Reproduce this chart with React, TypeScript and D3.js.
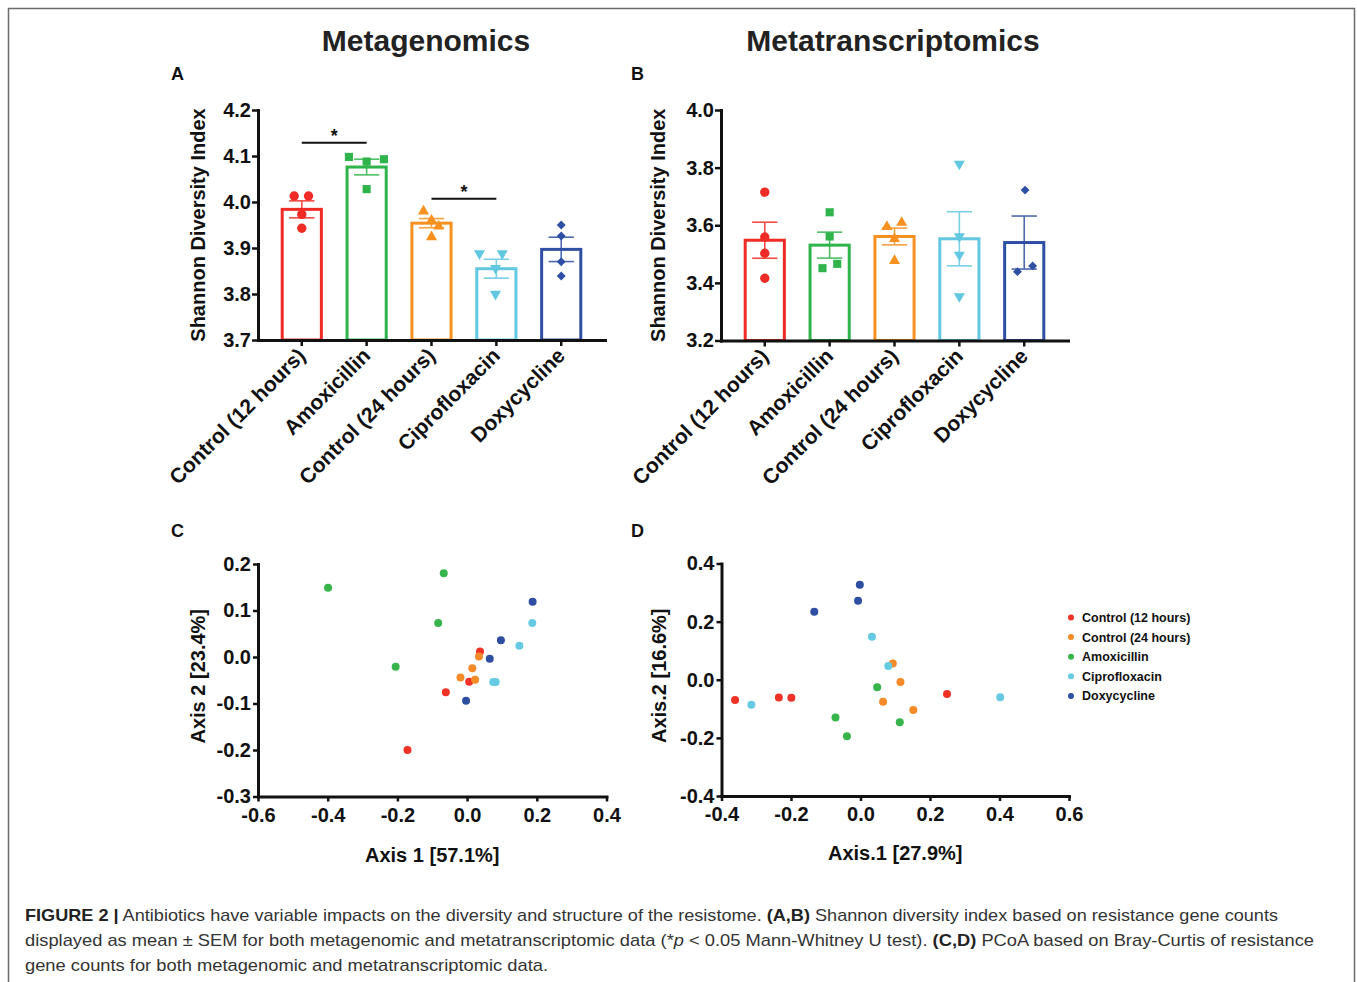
import React, { useEffect, useRef } from "react";
import * as d3 from "d3";

// ---- data ----
const barGroups = ["Control (12 hours)", "Amoxicillin", "Control (24 hours)", "Ciprofloxacin", "Doxycycline"];
const barColors = ["#ee2c25", "#2fb44b", "#f6911f", "#62c8e1", "#2e4fa3"];
const barShapes = ["circle", "square", "triangle", "triangleDown", "diamond"];

// A: metagenomics shannon
const metaGMean = [3.984, 4.076, 3.954, 3.855, 3.897];
const metaGSem = [0.0185, 0.017, 0.010, 0.0205, 0.0265];
const metaGPoints = [
  [4.013, 4.013, 3.973, 3.943],
  [4.098, 4.088, 4.093, 4.028],
  [3.980, 3.960, 3.947, 3.924],
  [3.888, 3.888, 3.856, 3.800],
  [3.950, 3.926, 3.870, 3.839],
];
const metaGJitter = [
  [-0.18, 0.16, 0, 0],
  [-0.42, 0, 0.41, 0],
  [-0.19, 0, 0.17, 0],
  [-0.4, 0.14, -0.02, -0.02],
  [0, 0, 0, 0],
];
const metaGSig = [
  [0, 1, 4.129],
  [2, 3, 4.007],
];
const metaGTicks = [3.7, 3.8, 3.9, 4.0, 4.1, 4.2];

// B: metatranscriptomics shannon
const metaTMean = [3.548, 3.531, 3.561, 3.553, 3.540];
const metaTSem = [0.0625, 0.045, 0.029, 0.094, 0.092];
const metaTPoints = [
  [3.715, 3.559, 3.503, 3.416],
  [3.645, 3.561, 3.451, 3.466],
  [3.595, 3.609, 3.553, 3.477],
  [3.813, 3.561, 3.497, 3.353],
  [3.722, 3.439, 3.459],
];
const metaTJitter = [
  [0, 0, 0, 0],
  [0, 0, -0.17, 0.18],
  [-0.18, 0.17, 0, 0],
  [0, 0, 0, 0],
  [0.02, -0.16, 0.2],
];
const metaTTicks = [3.2, 3.4, 3.6, 3.8, 4.0];

// C/D: PCoA
const pcoaGroups = ["Control (12 hours)", "Control (24 hours)", "Amoxicillin", "Ciprofloxacin", "Doxycycline"];
const pcoaColors = ["#ee3326", "#f58a28", "#37b44a", "#66cbe2", "#2d4ea1"];

const pcoaGPoints = [
  [[0.037, 0.012], [0.006, -0.053], [-0.061, -0.076], [-0.171, -0.2]],
  [[0.034, 0.001], [0.015, -0.024], [-0.019, -0.044], [0.023, -0.049]],
  [[-0.399, 0.149], [-0.067, 0.18], [-0.083, 0.073], [-0.205, -0.021]],
  [[0.187, 0.073], [0.15, 0.024], [0.075, -0.054], [0.082, -0.054]],
  [[0.188, 0.119], [0.097, 0.036], [0.065, -0.004], [-0.003, -0.094]],
];
const pcoaTPoints = [
  [[-0.361, -0.07], [-0.235, -0.061], [-0.199, -0.062], [0.249, -0.049]],
  [[0.093, 0.056], [0.115, -0.008], [0.065, -0.076], [0.152, -0.104]],
  [[0.048, -0.026], [-0.072, -0.13], [-0.039, -0.194], [0.113, -0.146]],
  [[-0.314, -0.086], [0.033, 0.148], [0.08, 0.047], [0.402, -0.06]],
  [[-0.002, 0.327], [-0.007, 0.272], [-0.133, 0.234]],
];
const pcoaGXTicks = [-0.6, -0.4, -0.2, 0.0, 0.2, 0.4];
const pcoaGYTicks = [-0.3, -0.2, -0.1, 0.0, 0.1, 0.2];
const pcoaTXTicks = [-0.4, -0.2, 0.0, 0.2, 0.4, 0.6];
const pcoaTYTicks = [-0.4, -0.2, 0.0, 0.2, 0.4];

const W = 1357;
const H = 982;
const FONT = "'Liberation Sans', Arial, Helvetica, sans-serif";
const fmt = (d: number) => (Math.abs(d) < 1e-9 ? 0 : d).toFixed(1);

function styleAxis(g: any) {
  g.select(".domain").attr("stroke", "#111").attr("stroke-width", 3).attr("stroke-linecap", "square");
  g.selectAll(".tick line").attr("stroke", "#111").attr("stroke-width", 2.5);
  g.selectAll(".tick text")
    .attr("fill", "#111")
    .style("font-family", FONT)
    .style("font-size", "20px")
    .style("font-weight", "bold");
}

function symbolPath(shape: string, size: number) {
  if (shape === "circle") return d3.symbol(d3.symbolCircle, size * 1.05)();
  if (shape === "square") return d3.symbol(d3.symbolSquare, size)();
  if (shape === "triangle" || shape === "triangleDown") return d3.symbol(d3.symbolTriangle, size * 0.8)();
  return d3.symbol(d3.symbolSquare, size * 0.6)();
}
function symbolRotate(shape: string) {
  if (shape === "triangleDown") return 180;
  if (shape === "diamond") return 45;
  return 0;
}

function drawBarPanel(svg: any, o: any) {
  const x = d3.scaleBand<string>().domain(barGroups).range([o.x0, o.x1]).paddingInner(0.35).paddingOuter(0.35);
  const y = d3.scaleLinear().domain([o.ticks[0], o.ticks[o.ticks.length - 1]]).range([o.y1, o.y0]);
  const g = svg.append("g");
  const bw = x.bandwidth();

  // bars
  barGroups.forEach((name, i) => {
    const bx = x(name)!;
    const top = y(o.means[i]);
    g.append("rect")
      .attr("x", bx + 1.5)
      .attr("y", top)
      .attr("width", bw - 3)
      .attr("height", o.y1 - top)
      .attr("fill", "#fff")
      .attr("stroke", barColors[i])
      .attr("stroke-width", 3);
  });

  // error bars
  barGroups.forEach((name, i) => {
    const cx = x(name)! + bw / 2;
    const hi = y(o.means[i] + o.sems[i]);
    const lo = y(o.means[i] - o.sems[i]);
    const eg = g.append("g").attr("stroke", barColors[i]).attr("stroke-width", 1.6).attr("opacity", 0.85);
    eg.append("line").attr("x1", cx).attr("x2", cx).attr("y1", hi).attr("y2", lo);
    eg.append("line").attr("x1", cx - bw * 0.3).attr("x2", cx + bw * 0.3).attr("y1", hi).attr("y2", hi);
    eg.append("line").attr("x1", cx - bw * 0.3).attr("x2", cx + bw * 0.3).attr("y1", lo).attr("y2", lo);
  });

  // points
  barGroups.forEach((name, i) => {
    const cx = x(name)! + bw / 2;
    const shape = barShapes[i];
    o.points[i].forEach((v: number, j: number) => {
      g.append("path")
        .attr("d", symbolPath(shape, 66))
        .attr("transform", `translate(${cx + o.jitter[i][j] * bw},${y(v)}) rotate(${symbolRotate(shape)})`)
        .attr("fill", barColors[i]);
    });
  });

  // axes
  const ya = g
    .append("g")
    .attr("transform", `translate(${o.x0},0)`)
    .call(d3.axisLeft(y).tickValues(o.ticks).tickFormat(fmt as any).tickSize(6).tickPadding(1).tickSizeOuter(0));
  styleAxis(ya);
  const xa = g
    .append("g")
    .attr("transform", `translate(0,${o.y1})`)
    .call(d3.axisBottom(x).tickSize(6).tickSizeOuter(0).tickFormat(() => ""));
  styleAxis(xa);

  // rotated category labels
  barGroups.forEach((name) => {
    const cx = x(name)! + bw / 2;
    g.append("text")
      .attr("transform", `translate(${cx + 5},${o.y1 + 17}) rotate(-45)`)
      .attr("text-anchor", "end")
      .attr("fill", "#111")
      .style("font-family", FONT)
      .style("font-size", "21px")
      .style("font-weight", "bold")
      .text(name);
  });

  // significance
  (o.sig || []).forEach((s: number[]) => {
    const xa0 = x(barGroups[s[0]])! + bw / 2;
    const xa1 = x(barGroups[s[1]])! + bw / 2;
    const yy = y(s[2]);
    g.append("line").attr("x1", xa0).attr("x2", xa1).attr("y1", yy).attr("y2", yy).attr("stroke", "#111").attr("stroke-width", 2);
    g.append("text")
      .attr("x", (xa0 + xa1) / 2)
      .attr("y", yy - 1)
      .attr("text-anchor", "middle")
      .attr("fill", "#111")
      .style("font-family", FONT)
      .style("font-size", "18px")
      .style("font-weight", "bold")
      .text("*");
  });

  // y title
  g.append("text")
    .attr("transform", `translate(${o.titleX},${(o.y0 + o.y1) / 2}) rotate(-90)`)
    .attr("text-anchor", "middle")
    .attr("fill", "#111")
    .style("font-family", FONT)
    .style("font-size", "20px")
    .style("font-weight", "bold")
    .text("Shannon Diversity Index");
}

function drawScatterPanel(svg: any, o: any) {
  const x = d3.scaleLinear().domain([o.xTicks[0], o.xTicks[o.xTicks.length - 1]]).range([o.x0, o.x1]);
  const y = d3.scaleLinear().domain([o.yTicks[0], o.yTicks[o.yTicks.length - 1]]).range([o.y1, o.y0]);
  const g = svg.append("g");

  const ya = g
    .append("g")
    .attr("transform", `translate(${o.x0},0)`)
    .call(d3.axisLeft(y).tickValues(o.yTicks).tickFormat(fmt as any).tickSize(5).tickPadding(2).tickSizeOuter(0));
  styleAxis(ya);
  const xa = g
    .append("g")
    .attr("transform", `translate(0,${o.y1})`)
    .call(d3.axisBottom(x).tickValues(o.xTicks).tickFormat(fmt as any).tickSize(5).tickPadding(6).tickSizeOuter(0));
  styleAxis(xa);

  o.points.forEach((pts: number[][], i: number) => {
    pts.forEach((p) => {
      g.append("circle").attr("cx", x(p[0])).attr("cy", y(p[1])).attr("r", 4).attr("fill", pcoaColors[i]);
    });
  });

  g.append("text")
    .attr("x", (o.x0 + o.x1) / 2)
    .attr("y", o.xTitleY)
    .attr("text-anchor", "middle")
    .attr("fill", "#111")
    .style("font-family", FONT)
    .style("font-size", "20px")
    .style("font-weight", "bold")
    .text(o.xTitle);
  g.append("text")
    .attr("transform", `translate(${o.yTitleX},${(o.y0 + o.y1) / 2 - 4}) rotate(-90)`)
    .attr("text-anchor", "middle")
    .attr("fill", "#111")
    .style("font-family", FONT)
    .style("font-size", "20px")
    .style("font-weight", "bold")
    .text(o.yTitle);
}

export default function App() {
  const ref = useRef<SVGSVGElement>(null);

  useEffect(() => {
    const svg = d3.select(ref.current);
    svg.selectAll("*").remove();

    svg.append("rect").attr("width", W).attr("height", H).attr("fill", "#fff");
    svg
      .append("path")
      .attr("d", `M8.5,${H} V8.5 H1354.5 V${H}`)
      .attr("fill", "none")
      .attr("stroke", "#6a6a6a")
      .attr("stroke-width", 1.5);

    const title = (t: string, cx: number) =>
      svg
        .append("text")
        .attr("x", cx)
        .attr("y", 51)
        .attr("text-anchor", "middle")
        .attr("fill", "#222")
        .style("font-family", FONT)
        .style("font-size", "30px")
        .style("font-weight", "bold")
        .text(t);
    title("Metagenomics", 426);
    title("Metatranscriptomics", 893);

    const letter = (t: string, lx: number, ly: number) =>
      svg
        .append("text")
        .attr("x", lx)
        .attr("y", ly)
        .attr("fill", "#111")
        .style("font-family", FONT)
        .style("font-size", "18px")
        .style("font-weight", "bold")
        .text(t);
    letter("A", 171, 80);
    letter("B", 631, 80);
    letter("C", 171, 537);
    letter("D", 631, 537);

    drawBarPanel(svg, {
      x0: 258, x1: 605, y0: 110, y1: 340, ticks: metaGTicks,
      means: metaGMean, sems: metaGSem, points: metaGPoints, jitter: metaGJitter, sig: metaGSig, titleX: 205,
    });
    drawBarPanel(svg, {
      x0: 721, x1: 1068, y0: 110, y1: 340.5, ticks: metaTTicks,
      means: metaTMean, sems: metaTSem, points: metaTPoints, jitter: metaTJitter, sig: [], titleX: 665,
    });

    drawScatterPanel(svg, {
      x0: 258, x1: 606.5, y0: 564, y1: 796.5, xTicks: pcoaGXTicks, yTicks: pcoaGYTicks,
      points: pcoaGPoints, xTitle: "Axis 1 [57.1%]", yTitle: "Axis 2 [23.4%]", xTitleY: 862, yTitleX: 205,
    });
    drawScatterPanel(svg, {
      x0: 721.5, x1: 1069, y0: 563.5, y1: 796, xTicks: pcoaTXTicks, yTicks: pcoaTYTicks,
      points: pcoaTPoints, xTitle: "Axis.1 [27.9%]", yTitle: "Axis.2 [16.6%]", xTitleY: 860, yTitleX: 666,
    });

    // legend
    const lg = svg.append("g");
    pcoaGroups.forEach((name, i) => {
      const ly = 617.5 + i * 19.6;
      lg.append("circle").attr("cx", 1071).attr("cy", ly).attr("r", 3).attr("fill", pcoaColors[i]);
      lg.append("text")
        .attr("x", 1082)
        .attr("y", ly + 4.5)
        .attr("fill", "#111")
        .style("font-family", FONT)
        .style("font-size", "12.5px")
        .style("font-weight", "bold")
        .text(name);
    });

    // caption
    const cap = svg
      .append("g")
      .attr("fill", "#333")
      .style("font-family", FONT)
      .style("font-size", "17px");
    const line = (yy: number, len: number, parts: [string, string][]) => {
      const t = cap.append("text").attr("x", 25).attr("y", yy).attr("textLength", len).attr("lengthAdjust", "spacingAndGlyphs");
      parts.forEach(([s, st]) => {
        const ts = t.append("tspan").text(s);
        if (st === "b") ts.style("font-weight", "bold").attr("fill", "#222");
        if (st === "i") ts.style("font-style", "italic");
      });
    };
    line(921, 1253, [
      ["FIGURE 2 |", "b"],
      [" Antibiotics have variable impacts on the diversity and structure of the resistome. ", ""],
      ["(A,B)", "b"],
      [" Shannon diversity index based on resistance gene counts", ""],
    ]);
    line(946, 1289, [
      ["displayed as mean \u00B1 SEM for both metagenomic and metatranscriptomic data (*", ""],
      ["p", "i"],
      [" < 0.05 Mann-Whitney U test). ", ""],
      ["(C,D)", "b"],
      [" PCoA based on Bray-Curtis of resistance", ""],
    ]);
    line(971, 523, [["gene counts for both metagenomic and metatranscriptomic data.", ""]]);
  }, []);

  return (
    <svg
      ref={ref}
      width={W}
      height={H}
      style={{ position: "absolute", left: 0, top: 0, display: "block" }}
    />
  );
}
